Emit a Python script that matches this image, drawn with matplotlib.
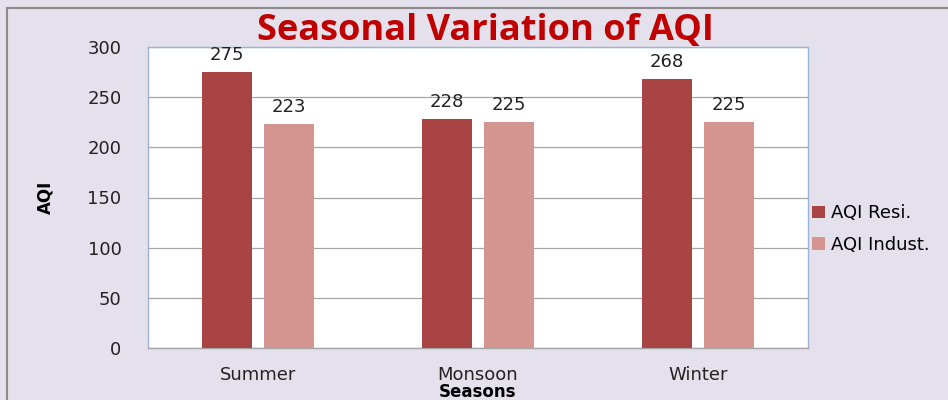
import numpy as np
import matplotlib.pyplot as plt
from matplotlib.patches import Rectangle

#%% --- Data ---
seasons = ["Summer", "Monsoon", "Winter"]
aqi_resi = [275, 228, 268]
aqi_indust = [223, 225, 225]
yticks = [0, 50, 100, 150, 200, 250, 300]

#%% --- Figure ---
bg = "#E4E0EC"
fig = plt.figure(figsize=(9.48, 4.0), dpi=100, facecolor=bg)

# outer frame (top and left edges visible)
fig.patches.append(Rectangle((7 / 948, -0.1), 1.2, 1 - 8 / 400 + 0.1,
                             transform=fig.transFigure, fill=False,
                             edgecolor="#8C8C8C", linewidth=1.5, zorder=0))

ax = fig.add_axes([148 / 948, 1 - 348 / 400, 660 / 948, 301 / 400])
ax.set_facecolor("white")

x = np.arange(len(seasons))
w = 0.227
off = 0.141
b1 = ax.bar(x - off, aqi_resi, w, color="#A84444", label="AQI Resi.", zorder=3)
b2 = ax.bar(x + off, aqi_indust, w, color="#D49490", label="AQI Indust.", zorder=3)

for bars, vals in ((b1, aqi_resi), (b2, aqi_indust)):
    for bar, v in zip(bars, vals):
        ax.text(bar.get_x() + bar.get_width() / 2, v + 8, str(v),
                ha="center", va="bottom", fontsize=13, color="#222222")

ax.set_xlim(-0.5, 2.5)
ax.set_ylim(0, 300)
ax.set_yticks(yticks)
ax.set_xticks(x)
ax.set_xticklabels(seasons)
ax.tick_params(axis="both", length=0, labelsize=13, colors="#222222")
ax.tick_params(axis="y", pad=19)
ax.tick_params(axis="x", pad=13)
ax.yaxis.grid(True, color="#A6A6A6", linewidth=0.9, zorder=0)
for s in ax.spines.values():
    s.set_color("#9DB3D6")
    s.set_linewidth(1.0)
ax.spines["bottom"].set_color("#A6A6A6")

ax.set_ylabel("AQI", fontsize=12, fontweight="bold", labelpad=24)
ax.set_xlabel("Seasons", fontsize=12, fontweight="bold", labelpad=-1)

fig.text(485 / 948, 1 - 31 / 400, "Seasonal Variation of AQI",
         ha="center", va="center", fontsize=26, fontweight="bold",
         fontstretch="normal", color="#C00000", family="Open Sans")

ax.legend(loc="center left", bbox_to_anchor=(0.995, 0.395), frameon=False,
          fontsize=13, handlelength=0.7, handleheight=0.7,
          labelspacing=0.75, handletextpad=0.35, borderaxespad=0)

fig.savefig("out.png", dpi=100, facecolor=bg)
